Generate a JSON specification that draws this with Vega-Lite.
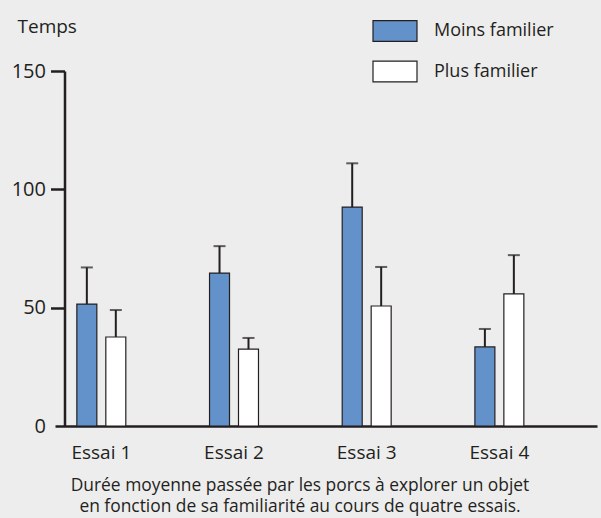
{
  "$schema": "https://vega.github.io/schema/vega-lite/v6.json",
  "width": 542,
  "height": 355,
  "autosize": {"type": "none"},
  "padding": {"left": 55, "top": 71, "right": 4, "bottom": 92},
  "background": "#ededed",
  "config": {"view": {"stroke": null}, "font": "Open Sans"},
  "title": {
    "text": ["Durée moyenne passée par les porcs à explorer un objet", "en fonction de sa familiarité au cours de quatre essais."],
    "orient": "bottom",
    "anchor": "middle",
    "frame": "group",
    "fontSize": 17.4,
    "fontWeight": "normal",
    "color": "#231f20",
    "lineHeight": 21,
    "baseline": "top",
    "dx": -26,
    "offset": 15
  },
  "data": {
    "values": [
      {"essai": "Essai 1", "serie": "Moins familier", "temps": 51.5, "haut": 67},
      {"essai": "Essai 1", "serie": "Plus familier", "temps": 37.6, "haut": 49},
      {"essai": "Essai 2", "serie": "Moins familier", "temps": 64.6, "haut": 76},
      {"essai": "Essai 2", "serie": "Plus familier", "temps": 32.5, "haut": 37.2},
      {"essai": "Essai 3", "serie": "Moins familier", "temps": 92.5, "haut": 111},
      {"essai": "Essai 3", "serie": "Plus familier", "temps": 50.7, "haut": 67.2},
      {"essai": "Essai 4", "serie": "Moins familier", "temps": 33.4, "haut": 41},
      {"essai": "Essai 4", "serie": "Plus familier", "temps": 55.8, "haut": 72.2}
    ]
  },
  "encoding": {
    "x": {
      "field": "essai",
      "type": "nominal",
      "sort": null,
      "scale": {"paddingInner": 0.631, "paddingOuter": 0.358, "align": 0.23},
      "axis": {
        "labelAngle": 0,
        "labelFontSize": 19,
        "labelColor": "#231f20",
        "labelPadding": 17,
        "ticks": false,
        "tickSize": 0,
        "domainColor": "#231f20",
        "domainWidth": 2.5,
        "grid": false,
        "title": null
      }
    },
    "xOffset": {
      "field": "serie",
      "type": "nominal",
      "sort": ["Moins familier", "Plus familier"],
      "scale": {"paddingInner": 0.31, "paddingOuter": 0}
    }
  },
  "layer": [
    {
      "mark": {"type": "bar", "stroke": "#231f20", "strokeWidth": 1.2},
      "encoding": {
        "y": {
          "field": "temps",
          "type": "quantitative",
          "scale": {"domain": [0, 150], "nice": false},
          "axis": {
            "values": [0, 50, 100, 150],
            "offset": -9.5,
            "grid": false,
            "labelFontSize": 20,
            "labelColor": "#231f20",
            "labelPadding": 5,
            "tickSize": 14,
            "tickWidth": 2.5,
            "tickColor": "#231f20",
            "tickOpacity": {"condition": {"test": "datum.value == 0", "value": 0}, "value": 1},
            "domainColor": "#231f20",
            "domainWidth": 2.5,
            "title": "Temps",
            "titleAngle": 0,
            "titleAlign": "left",
            "titleBaseline": "alphabetic",
            "titleFontSize": 19,
            "titleFontWeight": "normal",
            "titleColor": "#231f20",
            "titleX": -47.5,
            "titleY": -38.3
          }
        },
        "fill": {
          "field": "serie",
          "type": "nominal",
          "sort": ["Moins familier", "Plus familier"],
          "scale": {"range": ["#6391c9", "#ffffff"]},
          "legend": {
            "title": null,
            "orient": "none",
            "legendX": 328,
            "legendY": -52,
            "padding": 0,
            "symbolType": "M-2,-0.94H2V0.94H-2Z",
            "symbolSize": 484,
            "symbolStrokeColor": "#231f20",
            "symbolStrokeWidth": 1.2,
            "symbolOpacity": 1,
            "labelFontSize": 18,
            "labelColor": "#231f20",
            "labelOffset": 27,
            "rowPadding": 14.5
          }
        }
      }
    },
    {
      "mark": {"type": "rule", "strokeWidth": 2, "color": "#231f20"},
      "encoding": {
        "y": {"field": "temps", "type": "quantitative"},
        "y2": {"field": "haut"}
      }
    },
    {
      "mark": {"type": "tick", "orient": "horizontal", "size": 12, "thickness": 2, "color": "#231f20"},
      "encoding": {
        "y": {"field": "haut", "type": "quantitative"}
      }
    }
  ]
}
